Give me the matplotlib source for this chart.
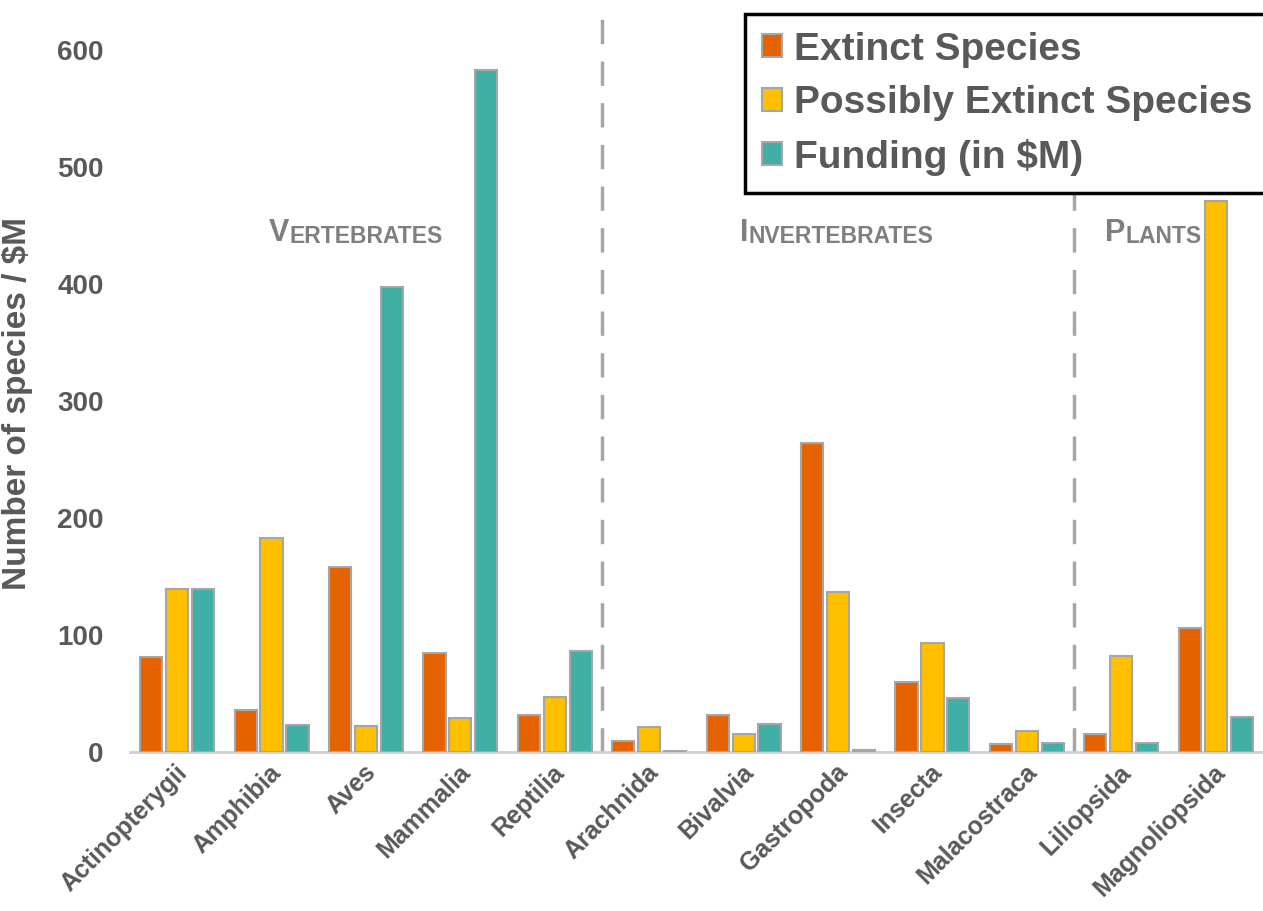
import numpy as np
import matplotlib
matplotlib.use('Agg')
import matplotlib.pyplot as plt
from matplotlib.transforms import ScaledTranslation

plt.rcParams['font.family'] = ['Liberation Sans', 'DejaVu Sans']

classes = ['Actinopterygii', 'Amphibia', 'Aves', 'Mammalia', 'Reptilia',
           'Arachnida', 'Bivalvia', 'Gastropoda', 'Insecta', 'Malacostraca',
           'Liliopsida', 'Magnoliopsida']
extinct = [81, 36, 158, 85, 32, 9, 32, 264, 60, 7, 15, 106]
possibly_extinct = [139, 183, 22, 29, 47, 21, 15, 137, 93, 18, 82, 471]
funding = [139, 23, 397, 583, 86, 1, 24, 2, 46, 8, 8, 30]
series_names = ['Extinct Species', 'Possibly Extinct Species', 'Funding (in $M)']

colors = ['#E46200', '#FFC000', '#40AFA6']
text_grey = '#595959'
edge_grey = '#A6A6A6'

fig = plt.figure(figsize=(12.63, 9.11), dpi=100)
ax = fig.add_axes([0.1029, 0.1745, 0.897, 0.8145])

x = np.arange(len(classes))
width = 0.235
offset = 0.275
for i, (vals, name) in enumerate(zip([extinct, possibly_extinct, funding], series_names)):
    ax.bar(x + (i - 1) * offset, vals, width, color=colors[i], edgecolor=edge_grey,
           linewidth=1.5, label=name, zorder=3)

ax.set_xlim(-0.5, len(classes) - 0.5)
ax.set_ylim(0, 634)
ax.set_yticks(range(0, 601, 100))

for side in ['top', 'right', 'left']:
    ax.spines[side].set_visible(False)
ax.spines['bottom'].set_color('#D0D0D0')
ax.spines['bottom'].set_linewidth(2)

ax.tick_params(axis='y', length=0, pad=19, labelsize=20, labelcolor=text_grey)
ax.tick_params(axis='x', length=0, pad=12, labelsize=18, labelcolor=text_grey)
for lab in ax.get_yticklabels():
    lab.set_fontweight('bold')
ax.set_xticks(x)
ax.set_xticklabels(classes, rotation=45, ha='right', va='center',
                   rotation_mode='anchor', fontweight='bold')
shift = ScaledTranslation(6 / 100, 0, fig.dpi_scale_trans)
for lab in ax.get_xticklabels():
    lab.set_transform(lab.get_transform() + shift)

ax.set_ylabel('Number of species / $M', fontsize=24, fontweight='bold',
              color=text_grey)
ax.yaxis.set_label_coords(-0.086, 0.47)

# group separators
for xs in [4.5, 9.5]:
    ax.axvline(xs, color=edge_grey, linewidth=2.5, linestyle=(0, (7, 5)), zorder=1)

# group labels in small caps
def small_caps(xc, y, word):
    t1 = ax.text(xc, y, word[0], fontsize=22, fontweight='bold', color='#7F7F7F',
                 ha='left', va='baseline')
    t2 = ax.annotate(word[1:], xy=(1, 0), xycoords=t1, fontsize=16.5,
                     fontweight='bold', color='#7F7F7F', ha='left', va='bottom')
    fig.canvas.draw()
    r = fig.canvas.get_renderer()
    w = t1.get_window_extent(r).width + t2.get_window_extent(r).width
    inv = ax.transData.inverted()
    x0 = ax.transData.transform((xc, y))[0] - w / 2
    t1.set_x(inv.transform((x0, 0))[0])

small_caps(1.89, 437, 'VERTEBRATES')
small_caps(6.99, 437, 'INVERTEBRATES')
small_caps(10.34, 437, 'PLANTS')

leg = fig.legend(loc='upper right', bbox_to_anchor=(1.0055, 1 - 14 / 911),
                 bbox_transform=fig.transFigure, borderaxespad=0,
                 fontsize=28, frameon=True, fancybox=False, framealpha=1,
                 handlelength=0.52, handleheight=0.52, handletextpad=0.3,
                 labelspacing=0.45, borderpad=0.45)
leg.get_frame().set_edgecolor('black')
leg.get_frame().set_linewidth(2.5)
for t in leg.get_texts():
    t.set_color(text_grey)
    t.set_fontweight('bold')

fig.savefig('out.png', dpi=100)
